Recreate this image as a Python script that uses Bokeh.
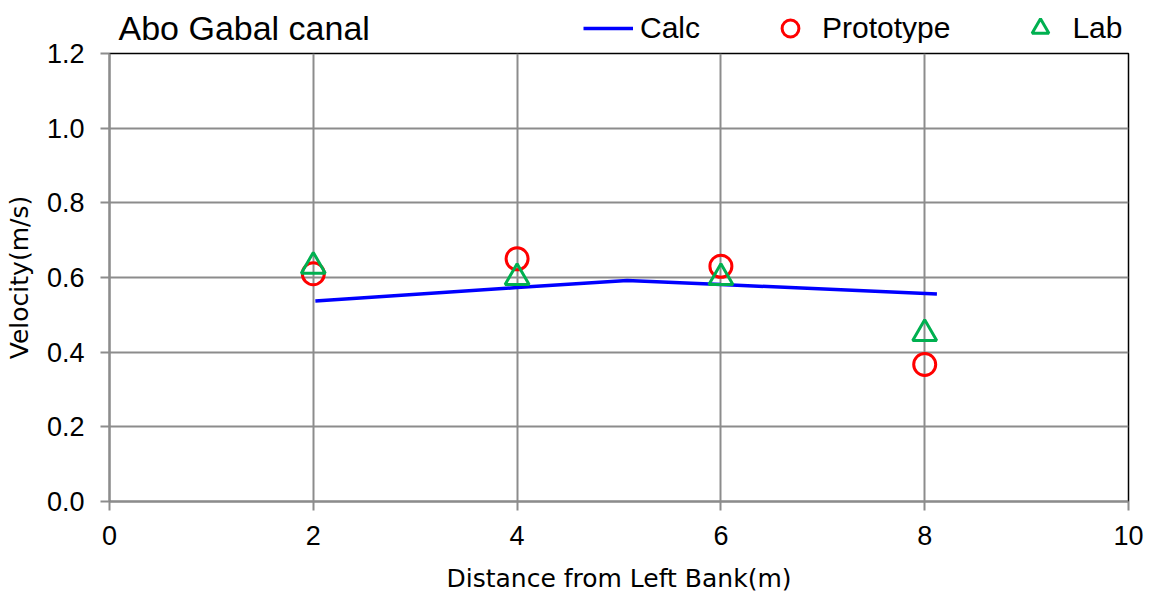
from bokeh.plotting import figure
from bokeh.layouts import column
from bokeh.models import (Range1d, Legend, LegendItem, FixedTicker, Label,
                          CustomJSTickFormatter)
from bokeh.embed import file_html
from bokeh.resources import INLINE

# Calculated velocity profile
calc_x = [2.02, 4.0, 5.08, 6.0, 8.12]
calc_v = [0.537, 0.573, 0.592, 0.581, 0.556]

# Measured stations
station_x = [2, 4, 6, 8]
prototype_v = [0.61, 0.65, 0.63, 0.367]
lab_v = [0.63, 0.60, 0.60, 0.45]

x_ticks = [0, 2, 4, 6, 8, 10]
y_ticks = [0.0, 0.2, 0.4, 0.6, 0.8, 1.0, 1.2]

FONT = "Liberation Sans"
LABEL_FONT = "DejaVu Sans"
GRID = "#8c8c8c"
HEADER_H = 43

CALC_STYLE = dict(line_color="#0000FF", line_width=3.5)
PROTO_STYLE = dict(marker="circle", fill_color=None, line_color="#FF0000", line_width=3)
LAB_STYLE = dict(marker="triangle", fill_color=None, line_color="#00B050", line_width=3)

# ---- main chart ----
p = figure(width=1159, height=597 - HEADER_H, output_backend="svg",
           toolbar_location=None,
           x_range=Range1d(0, 10), y_range=Range1d(0, 1.2),
           min_border_left=109, min_border_right=31,
           min_border_top=53 - HEADER_H, min_border_bottom=96)

p.outline_line_color = "black"
p.outline_line_width = 1.5
p.background_fill_color = "white"
p.border_fill_color = "white"

for ax in (p.xaxis[0], p.yaxis[0]):
    ax.axis_line_color = GRID
    ax.axis_line_width = 2
    ax.major_tick_line_color = GRID
    ax.major_tick_line_width = 2
    ax.major_tick_out = 9
    ax.major_tick_in = 0
    ax.minor_tick_line_color = None
    ax.major_label_text_font = FONT
    ax.major_label_text_font_size = "27px"
    ax.major_label_text_color = "black"
    ax.axis_label_text_font = LABEL_FONT
    ax.axis_label_text_font_size = "25px"
    ax.axis_label_text_font_style = "normal"
    ax.axis_label_text_color = "black"

p.xaxis.ticker = FixedTicker(ticks=x_ticks)
p.yaxis.ticker = FixedTicker(ticks=y_ticks)
p.yaxis.formatter = CustomJSTickFormatter(code="return tick.toFixed(1)")
p.xaxis.major_label_standoff = 15
p.yaxis.major_label_standoff = 16
p.xaxis.axis_label = "Distance from Left Bank(m)"
p.yaxis.axis_label = "Velocity(m/s)"
p.xaxis.axis_label_standoff = 16
p.yaxis.axis_label_standoff = 10

p.xgrid.ticker = FixedTicker(ticks=x_ticks)
p.ygrid.ticker = FixedTicker(ticks=y_ticks)
p.xgrid.grid_line_color = GRID
p.ygrid.grid_line_color = GRID
p.xgrid.grid_line_width = 2
p.ygrid.grid_line_width = 2

p.line(calc_x, calc_v, **CALC_STYLE)
p.scatter(station_x, prototype_v, size=22, **PROTO_STYLE)
p.scatter(station_x, lab_v, size=24, **LAB_STYLE)

# ---- header strip: chart name and series key ----
# The strip's ranges lie away from the data, so its renderers only feed the key.
h = figure(width=1159, height=HEADER_H, output_backend="svg",
           toolbar_location=None,
           x_range=Range1d(100, 101), y_range=Range1d(100, 101),
           x_axis_type=None, y_axis_type=None,
           min_border_left=0, min_border_right=0,
           min_border_top=0, min_border_bottom=0)
h.outline_line_color = None
h.xgrid.visible = False
h.ygrid.visible = False
h.background_fill_color = "white"
h.border_fill_color = "white"

k_calc = h.line(calc_x, calc_v, **CALC_STYLE)
k_proto = h.scatter(station_x, prototype_v, size=22, **PROTO_STYLE)
k_lab = h.scatter(station_x, lab_v, size=24, **LAB_STYLE)

GLYPH_H = 42
legend = Legend(items=[LegendItem(label="Calc", renderers=[k_calc]),
                       LegendItem(label="Prototype", renderers=[k_proto]),
                       LegendItem(label="Lab", renderers=[k_lab])],
                orientation="horizontal",
                location=(474, HEADER_H - 28 - GLYPH_H // 2),
                glyph_width=50, glyph_height=GLYPH_H, label_standoff=7,
                spacing=65, padding=0, margin=0, border_line_color=None,
                background_fill_alpha=0,
                label_text_font=FONT, label_text_font_size="30px",
                label_text_color="black")
h.add_layout(legend, "center")

h.add_layout(Label(x=9, y=HEADER_H - 27, x_units="screen", y_units="screen",
                   text="Abo Gabal canal", text_font=FONT,
                   text_font_size="34px", text_baseline="middle",
                   text_align="left", text_color="black"))

open("out.html", "w").write(file_html(column(h, p, spacing=0), INLINE))
